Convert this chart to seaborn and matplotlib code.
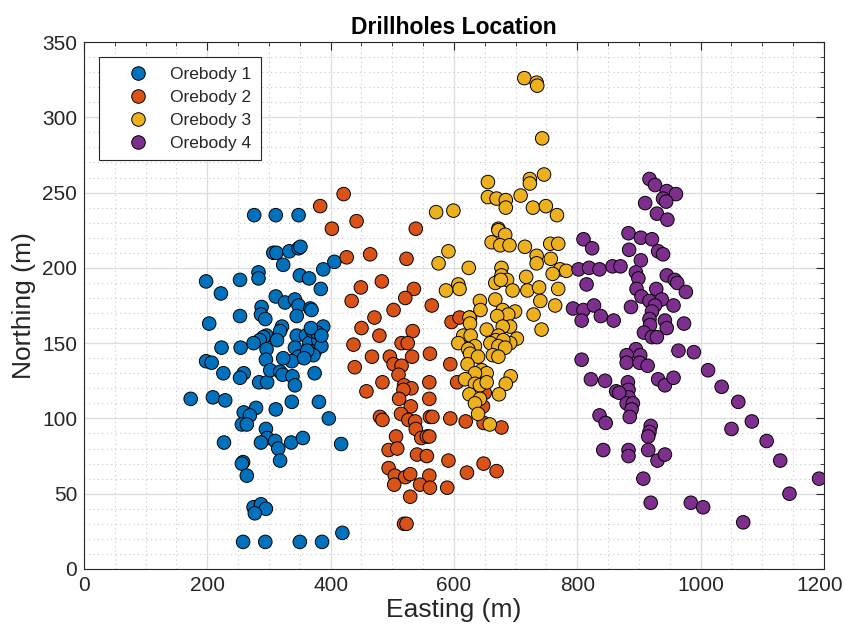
import numpy as np
import pandas as pd
import seaborn as sns
import matplotlib
matplotlib.use("Agg")
import matplotlib.pyplot as plt
from matplotlib.ticker import MultipleLocator, FuncFormatter

labels = ["Orebody 1", "Orebody 2", "Orebody 3", "Orebody 4"]
colors = ["#0072BD", "#D95319", "#EDB120", "#7E2F8E"]

ob1 = [(276,235),(311,235),(348,235),
(307,210),(312,210),(333,211),(348,213),(351,214),
(323,202),(283,197),(283,193),(253,192),(198,191),(222,183),
(350,195),(365,193),(388,199),(406,204),(384,186),
(311,181),(326,177),(342,179),(348,175),(367,173),(369,172),
(288,174),(287,169),(294,166),(253,168),(345,168),(203,163),
(321,161),(318,158),(296,155),(291,154),(285,152),(275,150),(313,152),
(345,155),(342,147),(348,141),(337,138),(388,161),
(223,147),(254,147),(296,146),(295,139),(323,140),(198,138),(207,137),
(360,155),(365,150),(370,158),(375,145),(380,152),(385,148),(372,142),(362,145),(378,157),(368,160),(385,155),(357,140),
(226,130),(259,130),(253,127),(284,124),(297,124),(302,132),(318,131),(322,129),(338,128),(342,122),(374,130),
(173,113),(209,114),(229,112),(279,107),(259,104),(269,102),(256,96),(264,96),(311,106),(337,111),(381,111),(397,100),
(295,93),(297,87),(287,84),(310,85),(315,80),(336,84),(355,87),(227,84),(417,83),
(258,71),(256,70),(318,72),(264,62),
(275,41),(287,43),(295,40),(277,37),
(258,18),(294,18),(350,18),(386,18),(419,24)]

ob2 = [(421,249),(383,241),(442,231),(402,226),(538,226),(426,207),(464,209),(523,206),
(483,191),(449,187),(535,186),(521,180),(434,178),(564,175),(502,172),(471,167),
(450,160),(533,158),(479,155),(437,149),(515,150),(525,150),(467,141),(496,141),(532,141),(561,143),
(439,134),(502,136),(515,135),
(484,124),(458,118),(510,129),(519,122),(531,120),(518,119),(560,124),
(511,113),(530,108),(560,113),
(480,101),(484,99),(514,103),(526,99),(537,98),(561,101),(565,101),
(538,93),(547,87),(556,88),(560,88),(506,88),
(494,79),(508,80),(540,76),(556,75),
(494,67),(504,62),(521,61),(529,63),(560,62),
(503,56),(545,56),(561,54),(529,48),(519,30),(523,30),
(596,164),(609,167),(626,167),(594,136),(605,124),
(594,100),(619,98),(648,97),(677,94),
(591,72),(648,70),(669,65),(621,64),(589,54),
(642,123),(650,117),(647,108)]

ob3 = [(714,326),(734,323),(735,321),(743,286),(746,262),(723,259),(723,256),(655,257),
(708,248),(655,247),(669,246),(684,245),(684,240),(728,240),(749,241),(767,235),(599,238),(571,237),
(672,226),(672,225),(683,222),(661,217),(675,215),(690,215),(715,214),(756,216),(769,216),
(591,211),(734,208),(734,203),(757,206),(575,203),(624,200),(677,200),
(772,199),(782,198),(760,196),(677,195),(667,190),(686,192),(676,192),(717,194),
(695,185),(607,189),(609,186),(587,185),(719,185),(738,187),(769,186),
(667,179),(740,178),(764,175),(642,178),(643,172),
(679,172),(699,171),(688,169),(670,168),(729,169),(625,167),(626,163),
(691,161),(679,161),(653,159),(742,159),(672,155),(668,152),(615,155),(627,155),
(702,153),(691,150),(680,152),(659,150),(607,150),(634,148),(672,148),(683,147),
(623,146),(626,143),(663,142),(672,141),(639,141),(622,136),
(645,132),(653,130),(634,130),(692,128),(684,123),(618,126),(634,123),(642,122),(653,124),
(625,116),(642,113),(634,110),(673,116),(639,103),(658,96)]

ob4 = [(917,259),(926,255),(945,251),(960,249),(939,246),(944,244),(910,243),(929,236),(946,232),
(883,223),(903,220),(921,219),(810,219),(824,213),(884,212),(931,211),(939,209),(903,205),
(802,199),(819,200),(836,199),(857,201),(870,201),(895,197),(899,193),(945,195),(958,192),(962,190),
(815,189),(896,186),(928,186),(976,184),
(904,181),(917,178),(937,179),(926,175),(956,175),
(793,173),(810,172),(827,175),(807,165),(838,168),(859,165),(887,174),
(921,171),(917,166),(918,162),(942,165),(945,160),(973,163),
(908,157),(921,154),(929,154),(964,145),(989,144),(895,146),(880,142),(902,142),(807,139),
(880,137),(901,137),(914,135),(822,126),(845,125),(882,124),(883,119),(883,114),(863,118),(868,117),
(931,126),(942,122),(956,127),(880,110),(890,110),(888,106),(885,101),(836,102),(846,97),
(919,95),(917,91),(915,88),(842,79),(883,79),(883,75),(915,79),(930,72),(942,76),
(907,60),(919,44),(984,44),
(1012,132),(1034,121),(1061,111),(1083,98),(1050,93),(1107,85),(1129,72),(1192,60),(1144,50),(1004,41),(1069,31)]

rows = []
for lab, pts in zip(labels, [ob1, ob2, ob3, ob4]):
    for e, n in pts:
        rows.append({"Easting": e, "Northing": n, "Orebody": lab})
df = pd.DataFrame(rows)

sns.set_style("white")
plt.rcParams["font.family"] = ["Liberation Sans", "DejaVu Sans"]

fig = plt.figure(figsize=(8.45, 6.32), dpi=100)
ax = fig.add_axes([84/845, 1-569/632, (824-84)/845, (569-42)/632])

sns.scatterplot(data=df, x="Easting", y="Northing", hue="Orebody",
                hue_order=labels, palette=colors, s=95,
                edgecolor="black", linewidth=0.7, ax=ax, zorder=3)

XMAX = 1200
ax.set_xlim(0, XMAX)
ax.set_ylim(0, 350)
ax.xaxis.set_major_locator(MultipleLocator(200))
ax.xaxis.set_minor_locator(MultipleLocator(50))
ax.yaxis.set_major_locator(MultipleLocator(50))
ax.yaxis.set_minor_locator(MultipleLocator(10))
# last x label is drawn separately (nudged inward so it fits inside the figure)
ax.xaxis.set_major_formatter(FuncFormatter(lambda v, p: "" if abs(v - XMAX) < 1e-6 else f"{v:g}"))
ax.grid(True, which="major", color="#dcdcdc", linewidth=0.9, linestyle="-")
ax.grid(True, which="minor", color="#c8c8c8", linewidth=0.8, linestyle=(0, (1, 3)))
ax.set_axisbelow(True)
ax.tick_params(which="both", direction="in", top=True, right=True, colors="#262626")
ax.tick_params(which="major", length=6, width=0.8, labelsize=15, pad=5)
ax.tick_params(which="minor", length=3, width=0.6)
for sp in ax.spines.values():
    sp.set_color("#262626")
    sp.set_linewidth(0.8)

ax.annotate(f"{XMAX:g}", xy=(XMAX, 0), xycoords=("data", "axes fraction"),
            xytext=(-3, -5), textcoords="offset points", ha="center", va="top",
            fontsize=15, color="#262626", annotation_clip=False)

ax.set_xlabel("Easting (m)", fontsize=19, color="#262626", labelpad=2)
ax.set_ylabel("Northing (m)", fontsize=19, color="#262626", labelpad=4)
ax.set_title("Drillholes Location", fontsize=16.5, fontweight="bold", color="black", pad=6)

leg = ax.legend(loc="upper left", bbox_to_anchor=(0.0203, 0.9715), borderaxespad=0,
                fontsize=12.5, frameon=True, fancybox=False, edgecolor="#262626",
                borderpad=0.55, handlelength=3.4, handletextpad=0.15,
                labelspacing=0.45, markerscale=1.0)
leg.get_frame().set_linewidth(0.8)
leg.get_frame().set_facecolor("white")
leg.get_frame().set_alpha(1)

fig.savefig("out.png", dpi=100)
